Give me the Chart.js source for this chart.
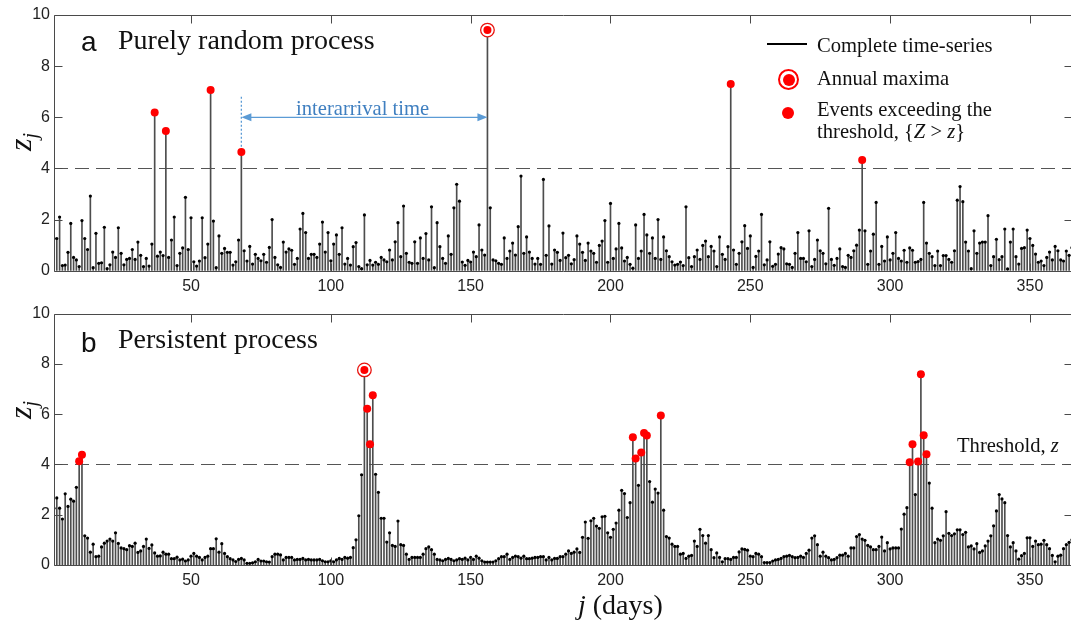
<!DOCTYPE html>
<html>
<head>
<meta charset="utf-8">
<script src="https://cdn.jsdelivr.net/npm/chart.js@4.4.1/dist/chart.umd.min.js"></script>
<style>
  html, body { margin: 0; padding: 0; background: #fff; overflow: hidden; }
  #wrap { position: relative; width: 1071px; height: 620px; overflow: hidden; }
  canvas { position: absolute; left: 0; }
  .t { position: absolute; white-space: nowrap; line-height: 1; color: #111; font-family: "Liberation Serif", serif; }
  .tag { font-family: "Liberation Sans", Arial, sans-serif; font-size: 28px; }
  .title { font-size: 28px; }
  .leg { font-size: 20.6px; }
  .ylab { font-size: 32px; font-style: italic; transform: translate(-50%, -50%) rotate(-90deg); }
  .ylab sub { font-size: 20px; vertical-align: -6px; }
  .sym { position: absolute; box-sizing: border-box; border-radius: 50%; }
</style>
</head>
<body>
<div id="wrap">
  <canvas id="panelA" width="1080" height="300" style="top:0"></canvas>
  <canvas id="panelB" width="1080" height="320" style="top:300px"></canvas>

  <div class="t tag" style="left:81px; top:28px">a</div>
  <div class="t title" style="left:118px; top:26px">Purely random process</div>
  <div class="t tag" style="left:81px; top:329px">b</div>
  <div class="t title" style="left:118px; top:325px">Persistent process</div>

  <div class="t ylab" style="left:22px; top:142px">z<sub>j</sub></div>
  <div class="t ylab" style="left:22px; top:410px">z<sub>j</sub></div>

  <div style="position:absolute; left:767px; top:43px; width:40px; border-top:2px solid #000"></div>
  <div class="sym" style="left:778px; top:69px; width:21px; height:21px; border:2px solid #f00"></div>
  <div class="sym" style="left:782.5px; top:73.5px; width:12px; height:12px; background:#f00"></div>
  <div class="sym" style="left:782px; top:107px; width:12px; height:12px; background:#f00"></div>
  <div class="t leg" style="left:817px; top:35px">Complete time-series</div>
  <div class="t leg" style="left:817px; top:68px">Annual maxima</div>
  <div class="t leg" style="left:817px; top:99px">Events exceeding the</div>
  <div class="t leg" style="left:817px; top:121px">threshold, {<i>Z</i> &gt; <i>z</i>}</div>

  <div class="t leg" style="left:296px; top:98px; color:#3f7fc0">interarrival time</div>
  <div class="t leg" style="left:957px; top:435px">Threshold, <i>z</i></div>

  <div class="t" style="left:578px; top:591px; font-size:28px"><i>j</i> (days)</div>
</div>

<script>
// day index 1..365
const days = Array.from({ length: 365 }, (_, i) => i + 1);
const xTicks = [50, 100, 150, 200, 250, 300, 350];
const yTicks = [0, 2, 4, 6, 8, 10];
const threshold = 4;

// a: purely random process
const randomSeries = [
  1.26, 1.26, 2.1, 0.2, 0.22, 0.72, 1.85, 0.52, 0.42, 0.16,
  1.96, 1.26, 0.83, 2.92, 0.12, 1.46, 0.29, 0.31, 1.7, 0.08,
  0.23, 0.73, 0.52, 1.68, 0.68, 0.23, 0.44, 0.48, 0.83, 0.44,
  1.12, 0.6, 0.16, 0.48, 0.18, 1.04, 6.19, 0.57, 0.73, 0.59,
  5.46, 0.52, 1.2, 2.1, 0.2, 0.68, 0.89, 2.87, 0.83, 2.07,
  0.35, 0.18, 0.38, 2.07, 0.51, 1.04, 7.07, 1.94, 0.12, 1.36,
  0.68, 0.87, 0.72, 0.72, 0.22, 0.35, 1.2, 4.64, 0.78, 0.38,
  0.95, 0.26, 0.64, 0.48, 0.39, 0.64, 0.33, 0.91, 2.0, 0.52,
  0.23, 0.13, 1.12, 0.73, 0.85, 0.8, 0.25, 0.48, 1.63, 2.24,
  1.49, 0.48, 0.64, 0.64, 0.52, 1.04, 1.9, 0.73, 1.49, 0.39,
  1.04, 1.4, 0.64, 1.68, 0.26, 0.48, 0.22, 0.94, 1.1, 0.16,
  0.08, 2.18, 0.23, 0.4, 0.22, 0.33, 0.25, 0.52, 0.42, 0.35,
  0.81, 0.42, 1.13, 1.88, 0.55, 2.53, 0.68, 0.33, 0.29, 1.13,
  0.29, 1.28, 0.48, 1.45, 0.42, 2.5, 0.12, 1.88, 0.94, 0.48,
  0.29, 1.36, 0.64, 2.46, 3.38, 2.72, 0.34, 0.21, 0.4, 0.34,
  0.73, 0.55, 1.79, 0.81, 0.61, 9.41, 2.46, 0.42, 0.39, 0.29,
  0.25, 1.28, 0.48, 0.77, 1.08, 0.61, 1.72, 3.7, 0.68, 1.32,
  0.73, 0.48, 0.26, 0.48, 0.25, 3.57, 0.6, 1.75, 0.26, 0.81,
  0.72, 0.4, 1.47, 0.51, 0.6, 0.27, 0.43, 1.36, 1.04, 0.72,
  0.4, 1.08, 0.77, 0.68, 0.33, 0.99, 1.16, 1.96, 0.33, 2.63,
  0.48, 0.85, 1.85, 0.89, 0.38, 0.52, 0.25, 0.1, 1.79, 0.48,
  0.77, 2.2, 1.4, 0.68, 1.28, 0.48, 2.0, 0.44, 1.32, 0.78,
  0.55, 0.35, 0.22, 0.25, 0.34, 0.2, 2.5, 0.51, 0.16, 0.55,
  0.81, 0.44, 0.99, 1.16, 0.55, 0.95, 0.77, 0.16, 1.32, 0.64,
  0.44, 0.94, 7.3, 0.81, 0.25, 0.68, 1.13, 1.76, 0.87, 1.36,
  0.13, 0.56, 0.77, 2.2, 0.23, 0.42, 1.13, 0.17, 0.25, 0.65,
  0.9, 0.85, 0.27, 0.25, 0.13, 0.68, 1.49, 0.48, 0.48, 0.35,
  1.56, 0.16, 0.44, 1.2, 0.78, 0.68, 0.27, 2.44, 0.44, 0.21,
  0.48, 0.85, 0.16, 0.13, 0.6, 0.52, 0.78, 1.0, 1.59, 4.33,
  1.56, 0.25, 0.77, 1.43, 2.67, 0.25, 0.95, 0.38, 1.32, 0.42,
  0.68, 1.49, 0.48, 0.38, 0.8, 0.33, 0.89, 0.8, 0.33, 0.36,
  0.44, 2.67, 1.08, 0.68, 0.55, 0.2, 0.77, 0.2, 0.59, 0.59,
  0.44, 0.33, 0.78, 2.76, 3.29, 2.7, 1.12, 0.77, 0.08, 1.56,
  0.68, 1.08, 1.12, 1.12, 2.15, 0.2, 0.55, 1.23, 0.43, 0.55,
  1.63, 0.07, 1.12, 1.63, 0.55, 0.26, 0.87, 0.9, 1.59, 1.26,
  0.99, 0.65, 0.33, 0.38, 0.2, 0.52, 0.73, 0.42, 0.95, 0.78,
  0.42, 0.38, 0.77, 0.6, 0.9
];

// b: persistent process
const persistentSeries = [
  2.26, 2.67, 2.26, 1.83, 2.83, 2.33, 2.62, 2.54, 3.09, 4.13,
  4.39, 1.16, 1.07, 0.51, 0.83, 0.33, 0.35, 0.72, 0.87, 0.95,
  1.03, 0.95, 1.28, 0.86, 0.68, 0.65, 0.61, 0.77, 0.74, 0.87,
  0.5, 0.56, 0.74, 1.03, 0.66, 0.8, 0.48, 0.35, 0.36, 0.51,
  0.43, 0.43, 0.25, 0.25, 0.31, 0.2, 0.23, 0.16, 0.2, 0.35,
  0.46, 0.35, 0.3, 0.2, 0.3, 0.35, 0.65, 0.65, 1.04, 0.51,
  0.85, 0.46, 0.33, 0.25, 0.2, 0.14, 0.22, 0.26, 0.2, 0.07,
  0.07, 0.09, 0.13, 0.22, 0.16, 0.16, 0.13, 0.12, 0.33, 0.43,
  0.43, 0.4, 0.2, 0.3, 0.3, 0.3, 0.2, 0.22, 0.22, 0.26,
  0.2, 0.22, 0.2, 0.2, 0.2, 0.22, 0.17, 0.13, 0.13, 0.17,
  0.13, 0.2, 0.26, 0.22, 0.3, 0.27, 0.3, 0.69, 1.0, 1.96,
  3.59, 7.76, 6.22, 4.8, 6.75, 3.61, 2.89, 1.86, 1.86, 0.91,
  1.28, 0.78, 0.74, 1.75, 0.81, 0.78, 0.43, 0.22, 0.3, 0.3,
  0.3, 0.3, 0.43, 0.65, 0.72, 0.61, 0.43, 0.22, 0.2, 0.17,
  0.22, 0.26, 0.22, 0.17, 0.2, 0.25, 0.22, 0.27, 0.2, 0.3,
  0.22, 0.35, 0.27, 0.17, 0.12, 0.12, 0.12, 0.12, 0.17, 0.25,
  0.33, 0.33, 0.43, 0.22, 0.3, 0.35, 0.33, 0.27, 0.35, 0.25,
  0.25, 0.27, 0.3, 0.3, 0.33, 0.33, 0.2, 0.3, 0.2, 0.26,
  0.26, 0.33, 0.33, 0.43, 0.56, 0.46, 0.51, 0.64, 0.5, 1.1,
  1.71, 1.06, 1.76, 1.86, 1.55, 1.46, 1.92, 1.94, 1.28, 1.1,
  1.42, 1.67, 2.18, 2.97, 2.84, 1.89, 2.48, 5.08, 4.24, 3.17,
  4.47, 5.25, 5.15, 3.32, 2.5, 3.02, 2.86, 5.95, 2.18, 1.13,
  1.07, 0.83, 0.74, 0.74, 0.43, 0.46, 0.26, 0.35, 0.38, 0.95,
  0.74, 1.42, 1.17, 0.87, 1.17, 0.61, 0.29, 0.48, 0.3, 0.13,
  0.25, 0.25, 0.22, 0.3, 0.3, 0.52, 0.64, 0.62, 0.59, 0.35,
  0.33, 0.46, 0.43, 0.33, 0.1, 0.1, 0.1, 0.16, 0.2, 0.22,
  0.26, 0.33, 0.35, 0.38, 0.33, 0.29, 0.3, 0.35, 0.3, 0.46,
  0.59, 1.07, 1.16, 0.81, 0.35, 0.51, 0.35, 0.29, 0.2, 0.22,
  0.29, 0.39, 0.39, 0.46, 0.35, 0.68, 0.68, 1.13, 1.21, 1.03,
  0.98, 0.78, 0.72, 0.61, 0.61, 0.74, 1.11, 0.56, 0.89, 0.64,
  0.68, 0.68, 0.68, 1.43, 2.02, 2.28, 4.09, 4.8, 2.8, 4.12,
  7.59, 5.16, 4.41, 3.26, 2.26, 0.89, 1.03, 0.98, 1.16, 2.12,
  1.26, 1.17, 1.24, 1.4, 1.4, 1.21, 1.3, 0.72, 0.76, 0.64,
  0.85, 0.5, 0.56, 0.76, 0.95, 1.16, 1.56, 2.15, 2.8, 2.63,
  2.48, 1.17, 0.72, 0.89, 0.56, 0.23, 0.37, 0.46, 1.08, 1.08,
  0.74, 0.95, 0.81, 0.83, 0.98, 0.81, 0.65, 0.38, 0.13, 0.35,
  0.39, 0.65, 0.81, 0.9, 1.0
];

// box, inward ticks and dashed threshold line
const frame = {
  id: 'frame',
  beforeDatasetsDraw(chart) {
    const { ctx, chartArea: a, scales: { y } } = chart;
    const ty = Math.round(y.getPixelForValue(threshold)) + 0.5;
    ctx.save();
    ctx.strokeStyle = '#555';
    ctx.lineWidth = 1;
    ctx.setLineDash([14, 7]);
    ctx.beginPath();
    ctx.moveTo(a.left, ty);
    ctx.lineTo(a.right, ty);
    ctx.stroke();
    ctx.restore();
  },
  afterDraw(chart) {
    const { ctx, chartArea: a, scales: { x, y } } = chart;
    const L = Math.round(a.left) + 0.5, R = Math.round(a.right) + 0.5;
    const T = Math.round(a.top) + 0.5, B = Math.round(a.bottom) + 0.5;
    ctx.save();
    ctx.strokeStyle = '#4a4a4a';
    ctx.lineWidth = 1;
    ctx.beginPath();
    ctx.rect(L, T, R - L, B - T);
    x.ticks.forEach(t => {
      const px = Math.round(x.getPixelForValue(t.value)) + 0.5;
      ctx.moveTo(px, T); ctx.lineTo(px, T + 8);
      ctx.moveTo(px, B); ctx.lineTo(px, B - 8);
    });
    y.ticks.forEach(t => {
      const py = Math.round(y.getPixelForValue(t.value)) + 0.5;
      ctx.moveTo(L, py); ctx.lineTo(L + 8, py);
      ctx.moveTo(R, py); ctx.lineTo(R - 8, py);
    });
    ctx.stroke();
    ctx.restore();
  }
};

// blue double arrow between two exceedances
const interval = {
  id: 'interval',
  afterDatasetsDraw(chart, args, opts) {
    if (!opts.from) return;
    const { ctx, scales: { x, y } } = chart;
    const x0 = x.getPixelForValue(opts.from);
    const x1 = x.getPixelForValue(opts.to);
    const yy = y.getPixelForValue(opts.level);
    ctx.save();
    ctx.strokeStyle = ctx.fillStyle = '#5b9bd5';
    ctx.lineWidth = 1.3;
    ctx.setLineDash([2, 2]);
    ctx.beginPath();
    ctx.moveTo(x0, y.getPixelForValue(opts.top));
    ctx.lineTo(x0, y.getPixelForValue(opts.base));
    ctx.stroke();
    ctx.setLineDash([]);
    ctx.beginPath();
    ctx.moveTo(x0 + 8, yy);
    ctx.lineTo(x1 - 8, yy);
    ctx.stroke();
    [[x0, 1], [x1, -1]].forEach(([px, d]) => {
      ctx.beginPath();
      ctx.moveTo(px, yy);
      ctx.lineTo(px + d * 10, yy - 4);
      ctx.lineTo(px + d * 10, yy + 4);
      ctx.closePath();
      ctx.fill();
    });
    ctx.restore();
  }
};

const tickFont = { family: '"Liberation Sans", Arial, sans-serif', size: 16 };

function stemChart(id, values, padTop, axisHeight, arrow) {
  const pts = values.map((v, i) => ({ x: days[i], y: v }));
  const over = pts.filter(p => p.y > threshold);
  const peak = pts.reduce((m, p) => (p.y > m.y ? p : m));

  return new Chart(document.getElementById(id), {
    type: 'bar',
    data: {
      datasets: [
        { type: 'scatter', data: over, pointRadius: 4, backgroundColor: '#ff0000', borderWidth: 0, order: 0 },
        { type: 'scatter', data: [peak], pointRadius: 6.8, backgroundColor: '#fff', borderColor: '#e8140f', borderWidth: 1.3, order: 1 },
        { type: 'scatter', data: pts, pointRadius: 1.6, backgroundColor: '#000', borderWidth: 0, order: 2 },
        { type: 'bar', data: pts, backgroundColor: '#4d4d4d', barThickness: 1, order: 3 }
      ]
    },
    options: {
      responsive: false,
      devicePixelRatio: 1,
      animation: false,
      events: [],
      layout: { padding: { top: padTop, right: 4.5, left: 0, bottom: 0 } },
      plugins: {
        legend: { display: false },
        tooltip: { enabled: false },
        interval: arrow || {}
      },
      scales: {
        x: {
          type: 'linear',
          min: 1,
          max: 365,
          offset: false,
          afterBuildTicks: s => { s.ticks = xTicks.map(v => ({ value: v })); },
          afterFit: s => { s.height = axisHeight; },
          grid: { display: false, drawTicks: false },
          border: { display: false },
          ticks: { padding: 6, color: '#222', font: tickFont, maxRotation: 0, autoSkip: false }
        },
        y: {
          min: 0,
          max: 10,
          afterBuildTicks: s => { s.ticks = yTicks.map(v => ({ value: v })); },
          afterFit: s => { s.width = 54; },
          grid: { display: false, drawTicks: false },
          border: { display: false },
          ticks: { padding: 4, color: '#222', font: tickFont }
        }
      }
    },
    plugins: [frame, interval]
  });
}

stemChart('panelA', randomSeries, 15, 29.3, { from: 68, to: 156, level: 6, top: 6.8, base: 4.85 });
stemChart('panelB', persistentSeries, 10.7, 55);
</script>
</body>
</html>
